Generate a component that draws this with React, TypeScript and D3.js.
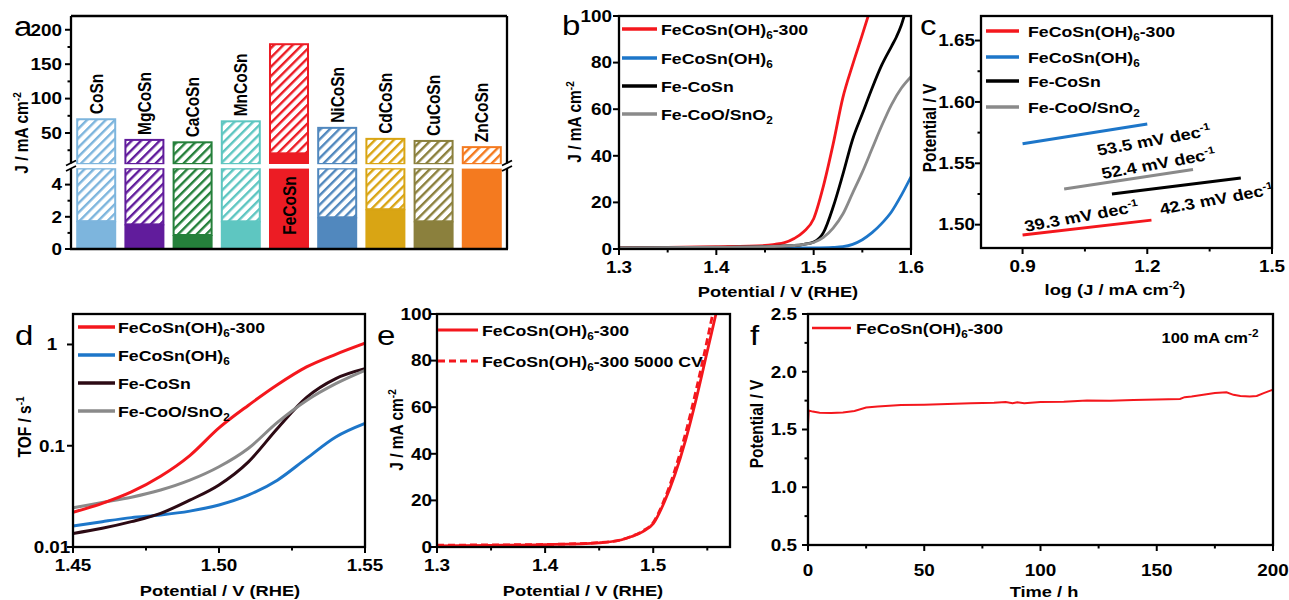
import React from "react";
import * as d3 from "d3";

// text in the source figure is stretched horizontally
const SX = 1.18;
const FONT = "'Liberation Sans', Arial, Helvetica, sans-serif";

const RED = "#f4171d";
const BLUE = "#1d76c9";
const GRAY = "#8a8a8a";
const BLACK = "#000000";

// ---- panel a: current density at fixed potential ----
const barCats = ["CoSn", "MgCoSn", "CaCoSn", "MnCoSn", "FeCoSn", "NiCoSn", "CdCoSn", "CuCoSn", "ZnCoSn"];
const barTotal = [70, 40, 36.5, 67, 179, 57.5, 41.5, 38.5, 29.5];
const barSolid = [1.73, 1.53, 0.87, 1.72, 20.5, 1.97, 2.47, 1.72, 5];
const barColors = ["#7db5dd", "#611c9c", "#25803b", "#5ec6c1", "#ec1c24", "#5188be", "#d9a514", "#8b803d", "#f47a1f"];

// ---- panel b: LSV ----
const bRedV = [1.3, 1.35, 1.4, 1.45, 1.46, 1.47, 1.48, 1.49, 1.5, 1.51, 1.52, 1.53, 1.54, 1.55, 1.556];
const bRedJ = [0.5, 0.7, 1.0, 1.5, 2.0, 2.7, 4.5, 7.5, 13, 27, 45, 65, 79, 92, 100];
const bBlueV = [1.3, 1.45, 1.5, 1.52, 1.53, 1.54, 1.55, 1.56, 1.57, 1.58, 1.59, 1.6];
const bBlueJ = [0.3, 0.4, 0.5, 0.7, 1, 2, 4, 7, 11, 16, 23, 31];
const bBlackV = [1.3, 1.4, 1.45, 1.48, 1.49, 1.5, 1.51, 1.52, 1.53, 1.54, 1.55, 1.56, 1.57, 1.58, 1.585, 1.59, 1.593];
const bBlackJ = [0.5, 0.7, 1.0, 1.5, 2, 3, 7, 18, 32, 47, 58, 69, 79, 87, 91, 96, 100];
const bGrayV = [1.3, 1.4, 1.45, 1.48, 1.49, 1.5, 1.51, 1.52, 1.53, 1.54, 1.55, 1.56, 1.57, 1.58, 1.59, 1.6];
const bGrayJ = [0.5, 0.8, 1.0, 1.5, 2, 2.8, 5, 9, 15, 24, 33, 43, 53, 62, 69, 74];

// ---- panel c: Tafel ----
const cRedX = [0.9, 1.21];
const cRedY = [1.4915, 1.5037];
const cBlueX = [0.9, 1.2];
const cBlueY = [1.566, 1.582];
const cBlackX = [1.115, 1.425];
const cBlackY = [1.525, 1.538];
const cGrayX = [1.0, 1.31];
const cGrayY = [1.529, 1.545];

// ---- panel d: TOF ----
const dV = [1.45, 1.46, 1.47, 1.48, 1.49, 1.5, 1.51, 1.52, 1.53, 1.54, 1.55];
const dRed = [0.022, 0.027, 0.035, 0.05, 0.08, 0.15, 0.25, 0.4, 0.6, 0.8, 1.03];
const dBlue = [0.0161, 0.0178, 0.0195, 0.0207, 0.0226, 0.026, 0.0325, 0.0457, 0.075, 0.122, 0.166];
const dBlack = [0.0136, 0.0153, 0.0178, 0.0215, 0.029, 0.041, 0.069, 0.148, 0.3, 0.46, 0.575];
const dGray = [0.0244, 0.0275, 0.031, 0.0365, 0.0457, 0.062, 0.094, 0.17, 0.28, 0.41, 0.555];

// ---- panel e: before/after 5000 CV ----
const eSolidV = [1.3, 1.35, 1.4, 1.45, 1.47, 1.48, 1.49, 1.5, 1.51, 1.52, 1.53, 1.54, 1.55, 1.558];
const eSolidJ = [0.5, 0.7, 1.0, 1.8, 3, 4.5, 6.5, 10, 19, 31, 46, 64, 84, 100];
const eDashV = [1.3, 1.35, 1.4, 1.45, 1.47, 1.48, 1.49, 1.5, 1.51, 1.52, 1.53, 1.54, 1.55, 1.555];
const eDashJ = [0.8, 0.9, 1.1, 1.9, 3.1, 4.6, 6.8, 10.5, 20, 33, 49, 68, 89, 100];

// ---- panel f: chronopotentiometry ----
const fT = [0, 0.3, 2, 5, 10, 15, 20, 25, 30, 40, 50, 60, 70, 80, 85, 88, 90, 93, 100, 110, 120, 130, 140, 150, 160, 162, 165, 170, 175, 180, 183, 186, 190, 193, 196, 200];
const fV = [1.54, 1.665, 1.655, 1.645, 1.643, 1.648, 1.66, 1.69, 1.7, 1.712, 1.715, 1.72, 1.727, 1.732, 1.738, 1.728, 1.735, 1.728, 1.738, 1.74, 1.75, 1.748, 1.755, 1.76, 1.765, 1.78, 1.785, 1.8, 1.815, 1.822, 1.8, 1.79, 1.785, 1.79, 1.815, 1.845];

const zip = (xs: number[], ys: number[]) => xs.map((x, i) => [x, ys[i]] as [number, number]);

type TP = {
  x: number; y: number; rot?: number; anchor?: string; size?: number;
  weight?: string | number; fill?: string; children?: React.ReactNode;
};
function T({ x, y, rot = 0, anchor = "middle", size = 16, weight = "bold", fill = "#000", children }: TP) {
  return (
    <text
      transform={`translate(${x},${y}) scale(${SX},1)${rot ? ` rotate(${rot})` : ""}`}
      textAnchor={anchor}
      fontSize={size}
      fontWeight={weight}
      fill={fill}
      fontFamily={FONT}
    >
      {children}
    </text>
  );
}

const sub = (s: string, rest = "") => (
  <>
    <tspan fontSize={10} dy={4}>{s}</tspan>
    <tspan dy={-4}>{rest}</tspan>
  </>
);
const sup = (s: string) => <tspan fontSize={10} dy={-6}>{s}</tspan>;

const lblRed300 = <>FeCoSn(OH){sub("6", "-300")}</>;
const lblOH = <>FeCoSn(OH){sub("6")}</>;
const lblFeCoSn = <>Fe-CoSn</>;
const lblOxide = <>Fe-CoO/SnO{sub("2")}</>;

function yAxis(scale: any, x: number, major: number[], minor: number[], fmt: (v: number) => string, lx: number, anchor = "end") {
  return (
    <g>
      {major.map((v) => (
        <line key={"M" + v} x1={x} x2={x - 6} y1={scale(v)} y2={scale(v)} stroke="#000" strokeWidth={2} />
      ))}
      {minor.map((v) => (
        <line key={"m" + v} x1={x} x2={x - 3.5} y1={scale(v)} y2={scale(v)} stroke="#000" strokeWidth={2} />
      ))}
      {major.map((v) => (
        <T key={"L" + v} x={lx} y={scale(v) + 5.8} anchor={anchor}>{fmt(v)}</T>
      ))}
    </g>
  );
}

function xAxis(scale: any, y: number, major: number[], minor: number[], fmt: (v: number) => string, ly: number) {
  return (
    <g>
      {major.map((v) => (
        <line key={"M" + v} x1={scale(v)} x2={scale(v)} y1={y} y2={y + 6} stroke="#000" strokeWidth={2} />
      ))}
      {minor.map((v) => (
        <line key={"m" + v} x1={scale(v)} x2={scale(v)} y1={y} y2={y + 3.5} stroke="#000" strokeWidth={2} />
      ))}
      {major.map((v) => (
        <T key={"L" + v} x={scale(v)} y={ly}>{fmt(v)}</T>
      ))}
    </g>
  );
}

type LegItem = { color: string; dash?: string; label: React.ReactNode };
function legend(items: LegItem[], x1: number, x2: number, tx: number, ys: number[], width = 3) {
  return (
    <g>
      {items.map((it, i) => (
        <g key={i}>
          <line x1={x1} x2={x2} y1={ys[i]} y2={ys[i]} stroke={it.color} strokeWidth={width} strokeDasharray={it.dash} />
          <T x={tx} y={ys[i] + 5.5} anchor="start" size={15}>{it.label}</T>
        </g>
      ))}
    </g>
  );
}

function frame(x0: number, x1: number, y0: number, y1: number) {
  return <rect x={x0} y={y0} width={x1 - x0} height={y1 - y0} fill="none" stroke="#000" strokeWidth={2.3} />;
}

export default function App() {
  // panel a scales
  const xA = d3.scaleBand<string>().domain(barCats).range([71, 507]).paddingInner(0.17).paddingOuter(0.108);
  const yAHi = d3.scaleLinear().domain([5, 220]).range([164, 16]);
  const yALo = d3.scaleLinear().domain([0, 5]).range([249, 168.5]);
  const bw = xA.bandwidth();

  // panel b
  const xB = d3.scaleLinear().domain([1.3, 1.6]).range([619, 911]);
  const yB = d3.scaleLinear().domain([0, 100]).range([249, 16]);
  const lineB = d3.line<[number, number]>().x((d) => xB(d[0])).y((d) => yB(d[1])).curve(d3.curveMonotoneX);

  // panel c
  const xC = d3.scaleLinear().domain([0.8, 1.5]).range([981, 1272]);
  const yC = d3.scaleLinear().domain([1.481, 1.67]).range([248, 16]);
  const lineC = d3.line<[number, number]>().x((d) => xC(d[0])).y((d) => yC(d[1]));

  // panel d
  const xD = d3.scaleLinear().domain([1.45, 1.55]).range([73, 365]);
  const yD = d3.scaleLog().domain([0.01, 2]).range([547, 314]);
  const lineD = d3.line<[number, number]>().x((d) => xD(d[0])).y((d) => yD(d[1])).curve(d3.curveMonotoneX);

  // panel e
  const xE = d3.scaleLinear().domain([1.3, 1.571]).range([437, 730]);
  const yE = d3.scaleLinear().domain([0, 100]).range([547, 314]);
  const lineE = d3.line<[number, number]>().x((d) => xE(d[0])).y((d) => yE(d[1])).curve(d3.curveMonotoneX);

  // panel f
  const xF = d3.scaleLinear().domain([0, 200]).range([808, 1273]);
  const yF = d3.scaleLinear().domain([0.5, 2.5]).range([545, 314]);
  const lineF = d3.line<[number, number]>().x((d) => xF(d[0])).y((d) => yF(d[1]));

  const f1 = d3.format(".1f");
  const f2 = d3.format(".2f");
  const fi = (v: number) => String(v);

  const breakMarks = (x: number) => (
    <g>
      <rect x={x - 4} y={163.5} width={8} height={5.5} fill="#fff" />
      <line x1={x - 5} y1={165.5} x2={x + 5} y2={160.5} stroke="#000" strokeWidth={1.8} />
      <line x1={x - 5} y1={171} x2={x + 5} y2={166} stroke="#000" strokeWidth={1.8} />
    </g>
  );

  return (
    <svg width={1289} height={600} style={{ display: "block", position: "absolute", left: 0, top: 0, background: "#fff" }}>
      <defs>
        {barColors.map((c, i) => (
          <pattern key={i} id={`hatch${i}`} patternUnits="userSpaceOnUse" width={6.6} height={6.6} patternTransform="rotate(45)">
            <rect width={6.6} height={6.6} fill="#fff" />
            <rect x={0} y={0} width={2.4} height={6.6} fill={c} />
          </pattern>
        ))}
        <clipPath id="clipB"><rect x={619} y={16} width={292} height={233} /></clipPath>
        <clipPath id="clipD"><rect x={73} y={314} width={292} height={233} /></clipPath>
        <clipPath id="clipE"><rect x={437} y={314} width={293} height={233} /></clipPath>
        <clipPath id="clipF"><rect x={808} y={314} width={465} height={231} /></clipPath>
      </defs>

      {/* ================= panel a ================= */}
      <g>
        {barCats.map((c, i) => {
          const x0 = xA(c) as number;
          const S = barSolid[i];
          const Tot = barTotal[i];
          const col = barColors[i];
          const lowTop = Math.min(S, 5);
          const parts: React.ReactNode[] = [];
          parts.push(<rect key="ls" x={x0} width={bw} y={yALo(lowTop)} height={yALo(0) - yALo(lowTop)} fill={col} />);
          if (S < 5) {
            parts.push(
              <rect key="lh" x={x0 + 1} width={bw - 2} y={yALo(5)} height={yALo(S) - yALo(5)} fill={`url(#hatch${i})`} stroke={col} strokeWidth={2} />
            );
          }
          if (S > 5) {
            parts.push(<rect key="us" x={x0} width={bw} y={yAHi(S)} height={yAHi(5) - yAHi(S)} fill={col} />);
          }
          const hb = Math.max(S, 5);
          parts.push(
            <rect key="uh" x={x0 + 1} width={bw - 2} y={yAHi(Tot)} height={yAHi(hb) - yAHi(Tot)} fill={`url(#hatch${i})`} stroke={col} strokeWidth={2} />
          );
          return <g key={c}>{parts}</g>;
        })}
        <rect x={72} y={164.2} width={434} height={4} fill="#fff" />
        {barCats.map((c, i) => {
          const cx = (xA(c) as number) + bw / 2;
          if (c === "FeCoSn") {
            return <T key={c} x={cx + 6.5} y={yALo(2.7)} rot={-90} anchor="middle" size={15.5}>{c}</T>;
          }
          return <T key={c} x={cx + 6.5} y={yAHi(barTotal[i]) - 5} rot={-90} anchor="start" size={15.5}>{c}</T>;
        })}
        <line x1={71} x2={507} y1={16} y2={16} stroke="#000" strokeWidth={2.3} />
        <line x1={70} x2={508} y1={249} y2={249} stroke="#000" strokeWidth={2.3} />
        <line x1={71} x2={71} y1={16} y2={164} stroke="#000" strokeWidth={2.3} />
        <line x1={71} x2={71} y1={168.5} y2={249} stroke="#000" strokeWidth={2.3} />
        <line x1={507} x2={507} y1={16} y2={164} stroke="#000" strokeWidth={2.3} />
        <line x1={507} x2={507} y1={168.5} y2={249} stroke="#000" strokeWidth={2.3} />
        {breakMarks(71)}
        {breakMarks(507)}
        {yAxis(yAHi, 71, [50, 100, 150, 200], [25, 75, 125, 175], fi, 62)}
        {yAxis(yALo, 71, [0, 2, 4], [1, 3], fi, 62)}
        <T x={28} y={133} rot={-90} size={15.5}>J / mA cm{sup("-2")}</T>
        <T x={14} y={36} anchor="start" size={28} weight="normal">a</T>
      </g>

      {/* ================= panel b ================= */}
      <g>
        <g clipPath="url(#clipB)" fill="none" strokeWidth={2.8} strokeLinejoin="round">
          <path d={lineB(zip(bRedV, bRedJ)) as string} stroke={RED} />
          <path d={lineB(zip(bBlueV, bBlueJ)) as string} stroke={BLUE} />
          <path d={lineB(zip(bBlackV, bBlackJ)) as string} stroke={BLACK} />
          <path d={lineB(zip(bGrayV, bGrayJ)) as string} stroke={GRAY} />
        </g>
        {frame(619, 911, 16, 249)}
        {xAxis(xB, 249, [1.3, 1.4, 1.5, 1.6], [1.35, 1.45, 1.55], f1, 273)}
        {yAxis(yB, 619, [0, 20, 40, 60, 80, 100], [], fi, 612)}
        {legend(
          [
            { color: RED, label: lblRed300 },
            { color: BLUE, label: lblOH },
            { color: BLACK, label: lblFeCoSn },
            { color: GRAY, label: lblOxide },
          ],
          622, 657, 661, [29, 58, 86, 114], 3.5
        )}
        <T x={581} y={122} rot={-90} size={15.5}>J / mA cm{sup("-2")}</T>
        <T x={778} y={297} size={15.5}>Potential / V (RHE)</T>
        <T x={562} y={35} anchor="start" size={28} weight="normal">b</T>
      </g>

      {/* ================= panel c ================= */}
      <g>
        <g fill="none" strokeWidth={3}>
          <path d={lineC(zip(cRedX, cRedY)) as string} stroke={RED} />
          <path d={lineC(zip(cBlueX, cBlueY)) as string} stroke={BLUE} />
          <path d={lineC(zip(cBlackX, cBlackY)) as string} stroke={BLACK} />
          <path d={lineC(zip(cGrayX, cGrayY)) as string} stroke={GRAY} />
        </g>
        {frame(981, 1272, 16, 248)}
        {xAxis(xC, 248, [0.9, 1.2, 1.5], [1.05, 1.35], f1, 272)}
        {yAxis(yC, 981, [1.5, 1.55, 1.6, 1.65], [1.525, 1.575, 1.625], f2, 975)}
        {legend(
          [
            { color: RED, label: lblRed300 },
            { color: BLUE, label: lblOH },
            { color: BLACK, label: lblFeCoSn },
            { color: GRAY, label: lblOxide },
          ],
          986, 1019, 1028, [31, 57, 81, 107], 3.5
        )}
        <T x={xC(1.219)} y={yC(1.5645)} rot={-12} size={15.5}>53.5 mV dec{sup("-1")}</T>
        <T x={xC(1.23)} y={yC(1.5455)} rot={-12} size={15.5}>52.4 mV dec{sup("-1")}</T>
        <T x={xC(1.37)} y={yC(1.5165)} rot={-12} size={15.5}>42.3 mV dec{sup("-1")}</T>
        <T x={xC(1.045)} y={yC(1.5025)} rot={-12} size={15.5}>39.3 mV dec{sup("-1")}</T>
        <T x={936} y={128} rot={-90} size={15.5}>Potential / V</T>
        <T x={1115} y={295} size={15.5}>log (J / mA cm{sup("-2")}<tspan dy={6}>)</tspan></T>
        <T x={920} y={35} anchor="start" size={28} weight="normal">c</T>
      </g>

      {/* ================= panel d ================= */}
      <g>
        <g clipPath="url(#clipD)" fill="none" strokeWidth={3}>
          <path d={lineD(zip(dV, dBlue)) as string} stroke={BLUE} />
          <path d={lineD(zip(dV, dBlack)) as string} stroke="#2c0a14" />
          <path d={lineD(zip(dV, dGray)) as string} stroke={GRAY} />
          <path d={lineD(zip(dV, dRed)) as string} stroke={RED} />
        </g>
        {frame(73, 365, 314, 547)}
        {xAxis(xD, 547, [1.45, 1.5, 1.55], [1.475, 1.525], f2, 571)}
        {yAxis(yD, 73, [0.01, 0.1, 1], [], (v) => (v >= 1 ? "1" : String(v)), 52, "middle")}
        {legend(
          [
            { color: RED, label: lblRed300 },
            { color: BLUE, label: lblOH },
            { color: "#2c0a14", label: lblFeCoSn },
            { color: GRAY, label: lblOxide },
          ],
          78, 115, 118, [327, 355, 383, 411], 3.5
        )}
        <T x={31} y={427} rot={-90} size={15.5}>TOF / s{sup("-1")}</T>
        <T x={220} y={596} size={15.5}>Potential / V (RHE)</T>
        <T x={15} y={345} anchor="start" size={28} weight="normal">d</T>
      </g>

      {/* ================= panel e ================= */}
      <g>
        <g clipPath="url(#clipE)" fill="none" strokeWidth={2.8}>
          <path d={lineE(zip(eSolidV, eSolidJ)) as string} stroke={RED} />
          <path d={lineE(zip(eDashV, eDashJ)) as string} stroke={RED} strokeDasharray="7,4" />
        </g>
        {frame(437, 730, 314, 547)}
        {xAxis(xE, 547, [1.3, 1.4, 1.5], [1.35, 1.45, 1.55], f1, 571)}
        {yAxis(yE, 437, [0, 20, 40, 60, 80, 100], [], fi, 432)}
        {legend(
          [
            { color: RED, label: lblRed300 },
            { color: RED, dash: "7,4", label: <>FeCoSn(OH){sub("6", "-300 5000 CV")}</> },
          ],
          438, 478, 482, [330, 361], 3
        )}
        <T x={403} y={430} rot={-90} size={15.5}>J / mA cm{sup("-2")}</T>
        <T x={583} y={596} size={15.5}>Potential / V (RHE)</T>
        <T x={377} y={345} anchor="start" size={28} weight="normal">e</T>
      </g>

      {/* ================= panel f ================= */}
      <g>
        <g clipPath="url(#clipF)" fill="none" strokeWidth={2}>
          <path d={lineF(zip(fT, fV)) as string} stroke={RED} />
        </g>
        {frame(808, 1273, 314, 545)}
        {xAxis(xF, 545, [0, 50, 100, 150, 200], [25, 75, 125, 175], fi, 576)}
        {yAxis(yF, 808, [0.5, 1.0, 1.5, 2.0, 2.5], [0.75, 1.25, 1.75, 2.25], f1, 797)}
        {legend([{ color: RED, label: lblRed300 }], 812, 851, 856, [328], 2.5)}
        <T x={1210} y={343} size={14}>100 mA cm{sup("-2")}</T>
        <T x={763} y={424} rot={-90} size={15.5}>Potential / V</T>
        <T x={1044} y={597} size={15.5}>Time / h</T>
        <T x={750} y={345} anchor="start" size={28} weight="normal">f</T>
      </g>
    </svg>
  );
}
